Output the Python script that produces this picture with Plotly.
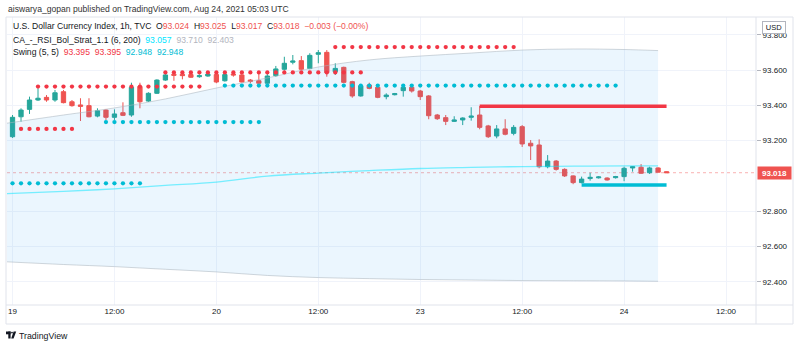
import plotly.graph_objects as go

# ---- hourly candles, bar index 0 = Aug 19 00:00 ----
bar_idx = list(range(-1, 78))
opens = [93.147, 93.222, 93.335, 93.377, 93.430, 93.445, 93.430, 93.477, 93.420, 93.402,
         93.398, 93.339, 93.373, 93.332, 93.358, 93.345, 93.506, 93.424, 93.468, 93.543,
         93.576, 93.576, 93.574, 93.562, 93.566, 93.574, 93.539, 93.577, 93.572, 93.543,
         93.539, 93.525, 93.568, 93.604, 93.644, 93.653, 93.608, 93.689, 93.700, 93.590,
         93.615, 93.534, 93.453, 93.515, 93.502, 93.449, 93.460, 93.483, 93.502, 93.481,
         93.453, 93.345, 93.330, 93.309, 93.317, 93.332, 93.345, 93.283, 93.226, 93.266,
         93.241, 93.279, 93.185, 93.175, 93.052, 93.084, 93.037, 93.000, 92.962, 92.985,
         92.989, 92.988, 92.990, 92.996, 93.045, 93.049, 93.018, 93.045, 93.024]
highs = [93.225, 93.345, 93.383, 93.449, 93.496, 93.458, 93.487, 93.487, 93.430, 93.440,
         93.440, 93.383, 93.377, 93.377, 93.417, 93.528, 93.528, 93.474, 93.547, 93.590,
         93.590, 93.590, 93.583, 93.576, 93.583, 93.587, 93.585, 93.590, 93.583, 93.549,
         93.587, 93.590, 93.623, 93.675, 93.685, 93.679, 93.695, 93.713, 93.713, 93.638,
         93.619, 93.539, 93.515, 93.528, 93.506, 93.468, 93.470, 93.509, 93.506, 93.487,
         93.458, 93.351, 93.345, 93.338, 93.332, 93.389, 93.396, 93.289, 93.288, 93.321,
         93.288, 93.288, 93.203, 93.207, 93.118, 93.090, 93.043, 93.003, 92.996, 93.018,
         92.999, 92.992, 93.000, 93.052, 93.056, 93.067, 93.052, 93.049, 93.025]
lows = [93.140, 93.215, 93.307, 93.351, 93.425, 93.420, 93.420, 93.411, 93.392, 93.311,
        93.332, 93.332, 93.317, 93.317, 93.339, 93.335, 93.383, 93.419, 93.464, 93.539,
        93.539, 93.547, 93.555, 93.556, 93.562, 93.525, 93.534, 93.562, 93.529, 93.525,
        93.521, 93.515, 93.562, 93.596, 93.632, 93.600, 93.604, 93.638, 93.562, 93.572,
        93.525, 93.443, 93.449, 93.491, 93.440, 93.434, 93.456, 93.449, 93.472, 93.430,
        93.321, 93.317, 93.288, 93.306, 93.288, 93.313, 93.264, 93.215, 93.213, 93.230,
        93.230, 93.164, 93.090, 93.043, 93.043, 93.030, 92.994, 92.953, 92.958, 92.973,
        92.985, 92.973, 92.985, 92.970, 93.024, 93.011, 93.011, 93.022, 93.017]
closes = [93.220, 93.332, 93.373, 93.430, 93.440, 93.430, 93.471, 93.415, 93.398, 93.394,
          93.335, 93.369, 93.332, 93.351, 93.343, 93.502, 93.420, 93.468, 93.543, 93.572,
          93.570, 93.568, 93.559, 93.568, 93.577, 93.532, 93.574, 93.572, 93.532, 93.536,
          93.525, 93.566, 93.606, 93.638, 93.651, 93.604, 93.683, 93.698, 93.585, 93.609,
          93.530, 93.453, 93.511, 93.496, 93.445, 93.458, 93.466, 93.502, 93.481, 93.449,
          93.341, 93.324, 93.309, 93.317, 93.328, 93.339, 93.275, 93.222, 93.266, 93.236,
          93.275, 93.181, 93.170, 93.052, 93.084, 93.037, 93.000, 92.962, 92.982, 92.992,
          92.994, 92.977, 92.996, 93.043, 93.052, 93.015, 93.045, 93.021, 93.018]

# ---- Bollinger-style envelope (CA_-_RSI_Bol_Strat_1.1), sampled bars ----
band_idx = [-1, 6, 12, 18, 24, 30, 36, 42, 48, 54, 60, 66, 72, 76]
band_upper = [93.296, 93.345, 93.385, 93.436, 93.498, 93.555, 93.617, 93.657, 93.679,
              93.696, 93.713, 93.719, 93.716, 93.710]
band_basis = [92.899, 92.912, 92.927, 92.946, 92.965, 92.999, 93.016, 93.030, 93.042,
              93.048, 93.053, 93.055, 93.057, 93.057]
band_lower = [92.514, 92.498, 92.486, 92.471, 92.456, 92.436, 92.424, 92.418, 92.413,
              92.410, 92.407, 92.406, 92.405, 92.403]

# ---- Swing (5, 5): historical pivot levels (first bar, last bar, price) ----
swing_high_start = [1, 3, 18, 38]
swing_high_end = [7, 22, 41, 59]
swing_high_level = [93.266, 93.506, 93.586, 93.730]
swing_low_start = [0, 11, 25]
swing_low_end = [15, 29, 71]
swing_low_level = [92.958, 93.305, 93.512]
# active levels
res_start, res_level = 55, 93.395
sup_start, sup_level = 67, 92.948

# ---- axes ----
x_tick_pos = [0, 12, 24, 36, 48, 60, 72, 84]
x_tick_text = ["19", "12:00", "20", "12:00", "23", "12:00", "24", "12:00"]
y_ticks = [92.4, 92.6, 92.8, 93.0, 93.2, 93.4, 93.6, 93.8]
y_ticks = [v for v in y_ticks if abs(v - 93.0) > 1e-9]

UP, DOWN = "#26A69A", "#EF5350"
TXT = "#131722"
GRID = "#F0F3FA"
FRAME = "#E0E3EB"
SW_RED, SW_BLUE = "#F23645", "#00BCD4"

W, H = 800, 348
L, R, T, B = 7, 756, 17, 305


def px(x):
    return (x - L) / (R - L)


def py(y):
    return (B - y) / (B - T)


fig = go.Figure()

# envelope fill and lines
fig.add_trace(go.Scatter(x=band_idx, y=band_lower, mode="lines",
                         line=dict(color="rgba(170,180,190,0.55)", width=1, shape="spline"),
                         hoverinfo="skip"))
fig.add_trace(go.Scatter(x=band_idx, y=band_upper, mode="lines", fill="tonexty",
                         fillcolor="rgba(33,150,243,0.09)",
                         line=dict(color="rgba(170,180,190,0.55)", width=1, shape="spline"),
                         hoverinfo="skip"))
fig.add_trace(go.Scatter(x=band_idx, y=band_basis, mode="lines",
                         line=dict(color="rgba(0,229,255,0.5)", width=1.3, shape="spline"),
                         hoverinfo="skip"))

# candles
fig.add_trace(go.Candlestick(
    x=bar_idx, open=opens, high=highs, low=lows, close=closes,
    increasing=dict(line=dict(color=UP, width=1), fillcolor=UP),
    decreasing=dict(line=dict(color=DOWN, width=1), fillcolor=DOWN),
    whiskerwidth=0, hoverinfo="skip"))

# swing dots
hx, hy = [], []
for s, e, lv in zip(swing_high_start, swing_high_end, swing_high_level):
    for i in range(s, e + 1):
        hx.append(i)
        hy.append(lv)
lx, ly = [], []
for s, e, lv in zip(swing_low_start, swing_low_end, swing_low_level):
    for i in range(s, e + 1):
        lx.append(i)
        ly.append(lv)
fig.add_trace(go.Scatter(x=hx, y=hy, mode="markers",
                         marker=dict(color=SW_RED, size=4.3, line=dict(width=0)),
                         hoverinfo="skip"))
fig.add_trace(go.Scatter(x=lx, y=ly, mode="markers",
                         marker=dict(color=SW_BLUE, size=4.3, line=dict(width=0)),
                         hoverinfo="skip"))

last = bar_idx[-1]
fig.add_trace(go.Scatter(x=[res_start, last], y=[res_level, res_level], mode="lines",
                         line=dict(color=SW_RED, width=3.5), hoverinfo="skip"))
fig.add_trace(go.Scatter(x=[sup_start, last], y=[sup_level, sup_level], mode="lines",
                         line=dict(color=SW_BLUE, width=3.5), hoverinfo="skip"))

shapes = []
# last-price dashed line
shapes.append(dict(type="line", xref="paper", yref="y", x0=0, x1=1,
                   y0=closes[-1], y1=closes[-1],
                   line=dict(color="rgba(239,83,80,0.45)", width=1, dash="3px,3px"),
                   layer="below"))
# chart frame and axis separators
shapes.append(dict(type="rect", xref="paper", yref="paper",
                   x0=px(6), x1=px(793), y0=py(324), y1=py(17),
                   line=dict(color=FRAME, width=1)))
shapes.append(dict(type="line", xref="paper", yref="paper",
                   x0=1, x1=1, y0=py(324), y1=py(17), line=dict(color=FRAME, width=1)))
shapes.append(dict(type="line", xref="paper", yref="paper",
                   x0=px(6), x1=px(793), y0=0, y1=0, line=dict(color=FRAME, width=1)))

# TradingView logo mark
shapes.append(dict(type="rect", xref="paper", yref="paper", x0=px(6), x1=px(10.6),
                   y0=py(334.3), y1=py(331.5), fillcolor=TXT, line=dict(width=0)))
shapes.append(dict(type="rect", xref="paper", yref="paper", x0=px(8.3), x1=px(10.6),
                   y0=py(338.5), y1=py(331.5), fillcolor=TXT, line=dict(width=0)))
shapes.append(dict(type="circle", xref="paper", yref="paper", x0=px(11.1), x1=px(12.9),
                   y0=py(333.5), y1=py(331.7), fillcolor=TXT, line=dict(width=0)))
shapes.append(dict(type="path", xref="paper", yref="paper",
                   path=(f"M {px(13.6)} {py(331.5)} L {px(16.2)} {py(331.5)} "
                         f"L {px(13.6)} {py(338.5)} L {px(11.2)} {py(338.5)} Z"),
                   fillcolor=TXT, line=dict(width=0)))

FONT = "Liberation Sans, Arial, sans-serif"


def span(txt, col):
    return f"<span style='color:{col}'>{txt}</span>"


def fmt_signed(v, nd):
    s = f"{abs(v):.{nd}f}"
    return ("\u2212" if v < 0 else "+") + s


chg = closes[-1] - closes[-2]
chg_pct = chg / closes[-2] * 100
sp = "\u00a0"
line1 = ("U.S. Dollar Currency Index, 1h, TVC" + sp * 2 +
         "O" + span(f"{opens[-1]:.3f}", DOWN) + sp * 2 +
         "H" + span(f"{highs[-1]:.3f}", DOWN) + sp * 2 +
         "L" + span(f"{lows[-1]:.3f}", DOWN) + sp * 2 +
         "C" + span(f"{closes[-1]:.3f}", DOWN) + sp * 2 +
         span(f"{fmt_signed(chg, 3)} ({fmt_signed(chg_pct, 2)}%)", DOWN))
line2 = ("CA_-_RSI_Bol_Strat_1.1 (6, 200)" + sp * 2 +
         span(f"{band_basis[-1]:.3f}", "#00E5FF") + sp * 2 +
         span(f"{band_upper[-1]:.3f}", "#B2B5BE") + sp * 2 +
         span(f"{band_lower[-1]:.3f}", "#B2B5BE"))
line3 = ("Swing (5, 5)" + sp * 2 +
         span(f"{res_level:.3f}", SW_RED) + sp * 2 +
         span(f"{res_level:.3f}", SW_RED) + sp * 2 +
         span(f"{sup_level:.3f}", SW_BLUE) + sp * 2 +
         span(f"{sup_level:.3f}", SW_BLUE))

ann = []


def text(x, y, s, size=8.5, color=TXT, **kw):
    ann.append(dict(xref="paper", yref="paper", x=px(x), y=py(y), text=s,
                    showarrow=False, xanchor="left", yanchor="middle",
                    font=dict(family=FONT, size=size, color=color), **kw))


text(6, 9, "aiswarya_gopan published on TradingView.com, Aug 24, 2021 05:03 UTC", 8.6, "#333333")
text(11, 26, line1, 8.6)
text(11, 40, line2, 8.6)
text(11, 52, line3, 8.6)
text(17, 335.5, "TradingView", 8.8, TXT)

# last price badge on the price scale
ann.append(dict(xref="paper", yref="y", x=px(756.5), y=closes[-1],
                text=f"<b>{closes[-1]:.3f}</b>", showarrow=False,
                xanchor="left", yanchor="middle", bgcolor=DOWN, borderpad=1.5,
                width=30, font=dict(family=FONT, size=8, color="white")))
# currency badge
ann.append(dict(xref="paper", yref="paper", x=px(774), y=py(28), text="USD",
                showarrow=False, xanchor="center", yanchor="middle",
                bgcolor="white", bordercolor="#B2B5BE", borderwidth=1, borderpad=1,
                width=20, font=dict(family=FONT, size=7.5, color=TXT)))

fig.update_layout(
    width=W, height=H,
    margin=dict(l=L, r=W - R, t=T, b=H - B),
    paper_bgcolor="white", plot_bgcolor="white",
    showlegend=False,
    boxgap=0.28,
    shapes=shapes,
    annotations=ann,
    xaxis=dict(range=[-0.65, (R - 12) / 8.5], tickvals=x_tick_pos, ticktext=x_tick_text,
               showgrid=True, gridcolor=GRID, gridwidth=1, zeroline=False,
               showline=False, ticks="", rangeslider=dict(visible=False),
               tickfont=dict(family=FONT, size=8, color=TXT), fixedrange=True),
    yaxis=dict(side="right", range=[93.6 - (B - 70) / 176.5, 93.6 + (70 - T) / 176.5],
               tickvals=y_ticks, tickformat=".3f",
               showgrid=True, gridcolor=GRID, gridwidth=1, zeroline=False,
               showline=False, ticks="outside", ticklen=4, tickcolor="#B2B5BE",
               tickfont=dict(family=FONT, size=8, color=TXT), fixedrange=True),
)

fig.write_html("out.html")
